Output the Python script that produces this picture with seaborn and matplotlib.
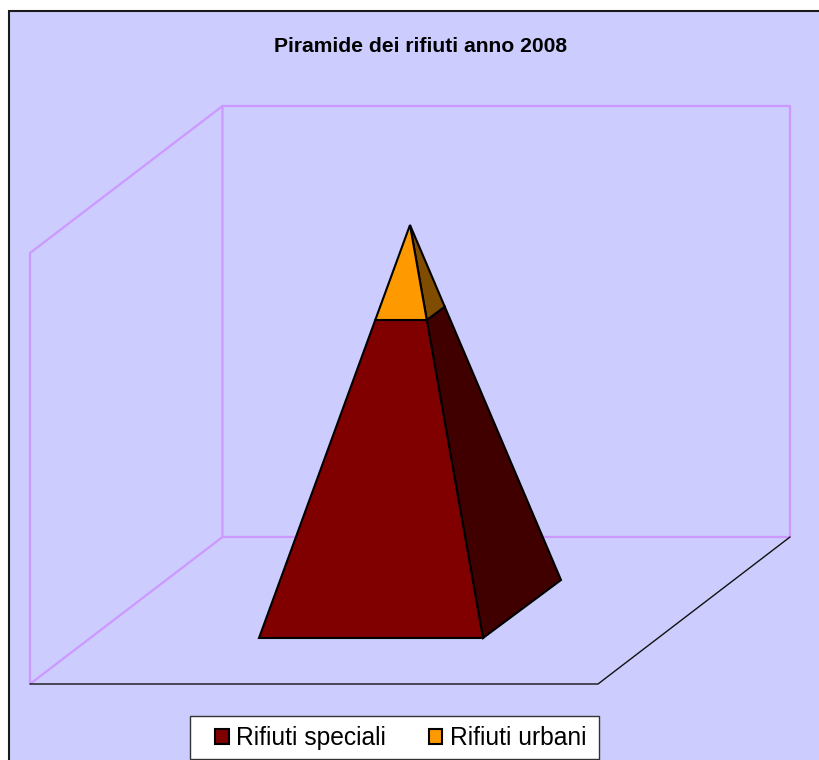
import matplotlib
matplotlib.use("Agg")
import matplotlib.pyplot as plt
import seaborn as sns
import numpy as np
from matplotlib.patches import Patch, Rectangle

# dati (percentuale sul totale)
categories = ["Rifiuti speciali", "Rifiuti urbani"]
values = [77, 23]
front_colors = ["#800000", "#FF9900"]
side_colors = ["#400000", "#804D00"]
title = "Piramide dei rifiuti anno 2008"

sns.set_theme(style="white")
plt.rcParams["font.family"] = ["Liberation Sans", "DejaVu Sans"]

fig, ax = plt.subplots(figsize=(8.19, 7.6), dpi=100)
ax.set_position([0, 0, 1, 1])

# pannello di sfondo
ax.add_patch(Rectangle((9, 11), 830, 770, facecolor="#CCCCFF",
                       edgecolor="#1a1a1a", linewidth=1.5, zorder=0))

# pareti e pavimento
wall_x = [30, 30, 222.5, 790, 790, 222.5, 222.5]
wall_y = [684, 253, 106, 106, 537, 537, 106]
sns.lineplot(x=wall_x, y=wall_y, sort=False, estimator=None, color="#CC99FF",
             linewidth=1.6, ax=ax, zorder=1)
sns.lineplot(x=[222.5, 30], y=[537, 684], sort=False, estimator=None, color="#CC99FF",
             linewidth=1.6, ax=ax, zorder=1)
sns.lineplot(x=[30, 598, 790], y=[684, 684, 537], sort=False, estimator=None, color="#111111",
             linewidth=1.0, ax=ax, zorder=2)

# piramide: base e apice in pixel, i tagli vengono dai valori
front_l = np.array([259.0, 638.0])
front_r = np.array([483.0, 638.0])
back_r = np.array([561.0, 580.0])
apex = np.array([410.0, 225.0])

def at(corner, share):
    return corner + (apex - corner) * share / 100

bottom = 0
for val, fc, sc in zip(values, front_colors, side_colors):
    top = bottom + val
    front = [at(front_l, bottom), at(front_r, bottom), at(front_r, top), at(front_l, top)]
    side = [at(front_r, bottom), at(back_r, bottom), at(back_r, top), at(front_r, top)]
    if top == 100:
        # in cima i due vertici coincidono
        front = front[:3]
        side = side[:3]
    ax.fill(*zip(*side), facecolor=sc, edgecolor="black", linewidth=1.5, zorder=3)
    ax.fill(*zip(*front), facecolor=fc, edgecolor="black", linewidth=1.5, zorder=3)
    bottom = top

ax.text(421, 46, title, ha="center", va="center", fontsize=15.2, fontweight="bold", color="black")

# riquadro legenda
ax.add_patch(Rectangle((190, 716), 408.5, 43, facecolor="white", edgecolor="#333333",
                       linewidth=1.0, zorder=4))
handles = [Patch(facecolor=c, edgecolor="black", linewidth=1.5, label=n)
           for c, n in zip(front_colors, categories)]
leg = ax.legend(handles=handles, ncol=2, fontsize=17.7, frameon=False,
                loc="upper left", bbox_to_anchor=(215, 726), bbox_transform=ax.transData,
                borderaxespad=0, borderpad=0, handlelength=0.55, handleheight=0.55,
                handletextpad=0.3, columnspacing=1.75, labelcolor="black")
leg.set_zorder(5)

ax.set_xlim(0, 819)
ax.set_ylim(760, 0)
ax.axis("off")

fig.savefig("out.png", dpi=100, facecolor="white")
